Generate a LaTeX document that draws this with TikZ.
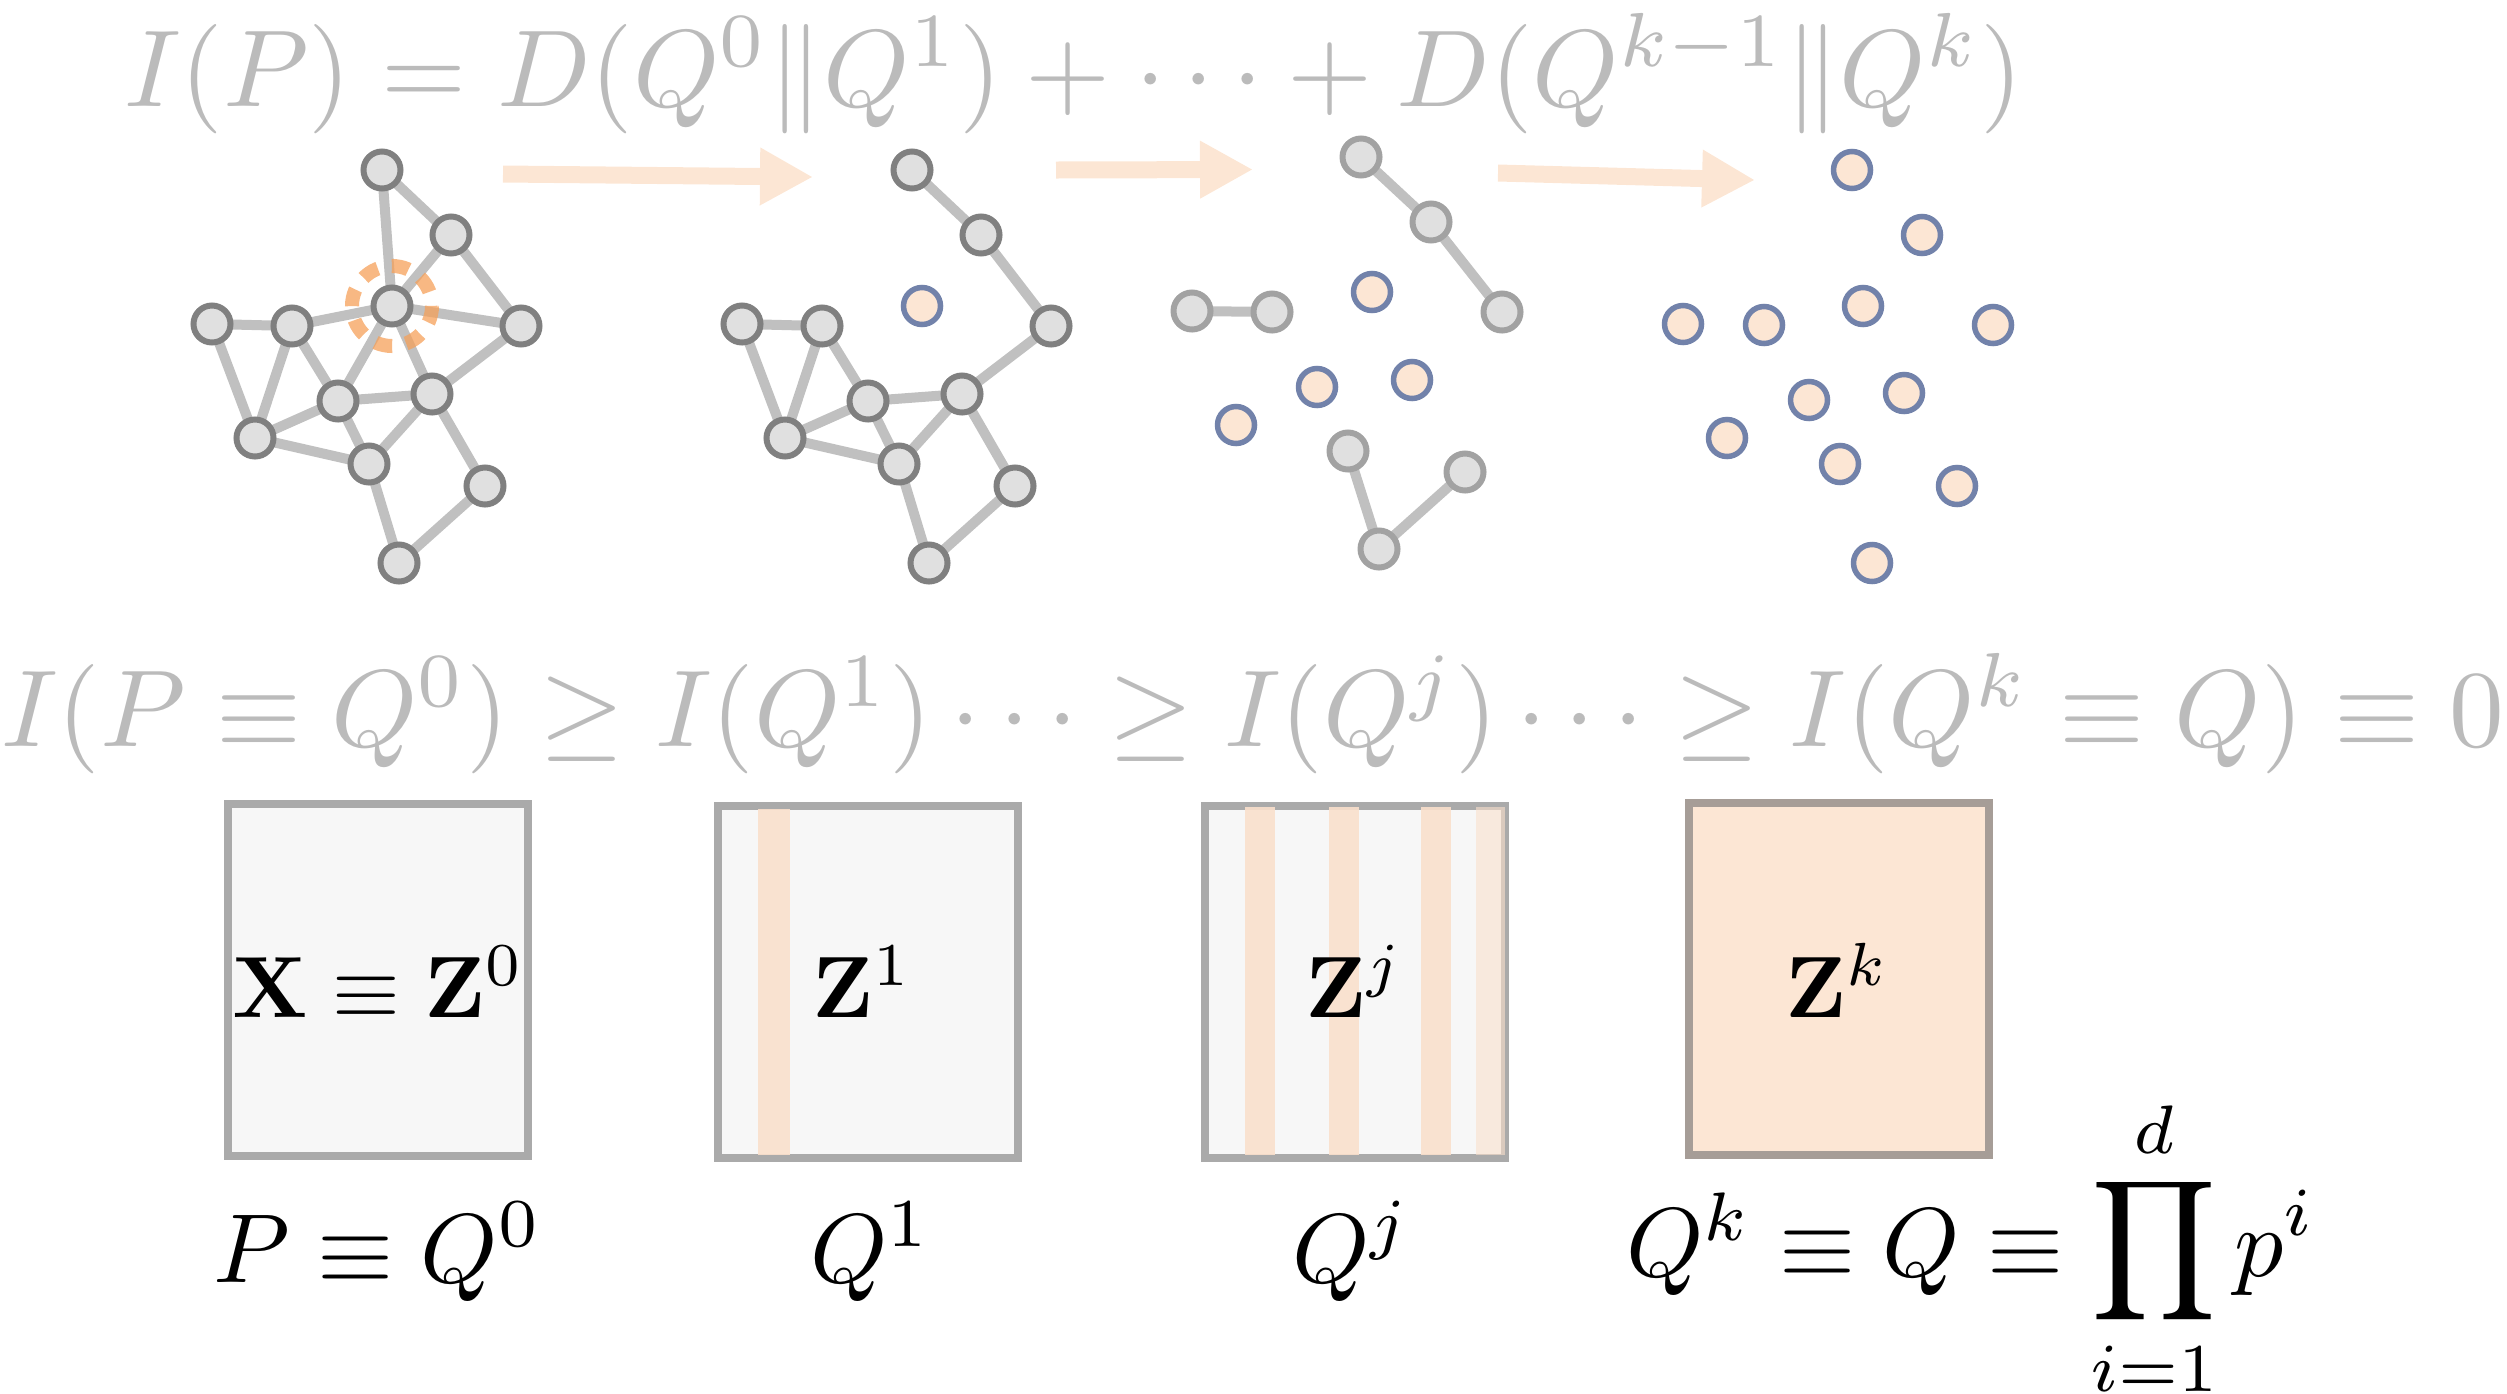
\documentclass[tikz,border=0pt]{standalone}
\usepackage{graphicx}
\usetikzlibrary{arrows.meta,backgrounds}
\definecolor{edgegray}{RGB}{192,192,192}
\definecolor{nodefill}{RGB}{224,224,224}
\definecolor{nodedraw}{RGB}{128,128,128}
\definecolor{nodedrawlight}{RGB}{162,162,162}
\definecolor{peach}{RGB}{252,230,212}
\definecolor{bluering}{RGB}{114,130,170}
\definecolor{ringorange}{RGB}{245,160,90}
\definecolor{eqgray}{RGB}{187,187,187}
\definecolor{boxborder}{RGB}{170,170,170}
\definecolor{boxfill}{RGB}{247,247,247}
\definecolor{stripecol}{RGB}{250,224,204}
\definecolor{kborder}{RGB}{166,157,151}
\tikzset{
  gnode/.style={circle, minimum size=37pt, inner sep=0pt, line width=6pt, draw=nodedraw, fill=nodefill},
  gnodelight/.style={gnode, draw=nodedrawlight},
  onode/.style={circle, minimum size=37pt, inner sep=0pt, line width=5.5pt, draw=bluering, fill=peach},
  gedge/.style={line width=10pt, draw=edgegray},
  flowarrow/.style={line width=17pt, draw=peach, -{Triangle[length=53pt,width=54pt]}},
  dashring/.style={draw=ringorange, opacity=0.75, line width=14pt, dash pattern=on 17pt off 14.4pt},
  zbox/.style={rectangle, draw=boxborder, fill=boxfill, line width=8pt, minimum width=300pt, minimum height=352pt, inner sep=0pt},
  kbox/.style={zbox, draw=kborder, fill=peach},
  stripe/.style={fill=stripecol, opacity=0.9},
  eqtext/.style={inner sep=0pt, text=eqgray},
  lbl/.style={inner sep=0pt, text=black}
}
\begin{document}
\begin{tikzpicture}[x=1pt,y=-1pt]
\useasboundingbox (0,0) rectangle (2507,1393);

% ---------- equations ----------
\node[eqtext, anchor=base west] (eqtop) at (124,106)
  {\resizebox{1898pt}{!}{$I(P)=D(Q^0\|Q^1)+\cdots+D(Q^{k-1}\|Q^k)$}};
\node[eqtext, anchor=base west] (eqmid) at (1,746)
  {\resizebox{2501pt}{!}{$I(P\equiv Q^0)\geq I(Q^1)\cdots\geq I(Q^j)\cdots\geq I(Q^k\equiv Q)\equiv 0$}};

% ---------- graph 1 ----------
\node[gnode] (g1A) at (382,170) {};
\node[gnode] (g1B) at (451,235) {};
\node[gnode] (g1C) at (392,306) {};
\node[gnode] (g1D) at (521,326) {};
\node[gnode] (g1E) at (212,324) {};
\node[gnode] (g1F) at (292,326) {};
\node[gnode] (g1G) at (338,401) {};
\node[gnode] (g1H) at (432,394) {};
\node[gnode] (g1I) at (255,438) {};
\node[gnode] (g1J) at (369,464) {};
\node[gnode] (g1K) at (485,486) {};
\node[gnode] (g1L) at (399,563) {};

% ---------- graph 2 ----------
\node[gnode] (g2A) at (912,170) {};
\node[gnode] (g2B) at (981,235) {};
\node[onode] (g2C) at (922,306) {};
\node[gnode] (g2D) at (1051,326) {};
\node[gnode] (g2E) at (742,324) {};
\node[gnode] (g2F) at (822,326) {};
\node[gnode] (g2G) at (868,401) {};
\node[gnode] (g2H) at (962,394) {};
\node[gnode] (g2I) at (785,438) {};
\node[gnode] (g2J) at (899,464) {};
\node[gnode] (g2K) at (1015,486) {};
\node[gnode] (g2L) at (929,563) {};

% ---------- graph 3 ----------
\node[gnodelight] (g3a) at (1361,157) {};
\node[gnodelight] (g3b) at (1431,222) {};
\node[gnodelight] (g3c) at (1502,312) {};
\node[gnodelight] (g3d) at (1192,311) {};
\node[gnodelight] (g3e) at (1272,312) {};
\node[onode] (g3f) at (1372,292) {};
\node[onode] (g3g) at (1317,387) {};
\node[onode] (g3h) at (1412,380) {};
\node[onode] (g3i) at (1236,425) {};
\node[gnodelight] (g3j) at (1348,451) {};
\node[gnodelight] (g3k) at (1465,472) {};
\node[gnodelight] (g3l) at (1379,549) {};

% ---------- graph 4 ----------
\foreach \n/\x/\y in {1/1852/170, 2/1922/235, 3/1863/306, 4/1683/324, 5/1764/325, 6/1993/325,
                      7/1809/400, 8/1904/393, 9/1727/438, 10/1840/464, 11/1957/486, 12/1872/563}
  \node[onode] (g4n\n) at (\x,\y) {};

% ---------- edges (behind nodes) ----------
\begin{pgfonlayer}{background}
  \foreach \a/\b in {A/B, A/C, B/C, B/D, C/D, C/F, C/G, C/H, E/F, E/I, F/I, F/G, G/H, G/I, G/J, I/J, H/J, H/D, H/K, J/L, K/L}
    \draw[gedge] (g1\a.center) -- (g1\b.center);
  \foreach \a/\b in {A/B, B/D, D/H, E/F, E/I, F/I, F/G, G/I, G/H, G/J, I/J, H/J, H/K, J/L, K/L}
    \draw[gedge] (g2\a.center) -- (g2\b.center);
  \foreach \a/\b in {a/b, b/c, d/e, j/l, k/l}
    \draw[gedge] (g3\a.center) -- (g3\b.center);
\end{pgfonlayer}

% dashed ring around the removed node
\draw[dashring] (g1C) circle[radius=40];

% ---------- flow arrows ----------
\coordinate (ar1s) at (503,174);
\coordinate (ar1e) at (813,177);
\coordinate (ar2s) at (1056,170);
\coordinate (ar2e) at (1253,169.5);
\coordinate (ar3s) at (1498,173);
\coordinate (ar3e) at (1755,180);
\draw[flowarrow] (ar1s) -- (ar1e);
\draw[flowarrow] (ar2s) -- (ar2e);
\draw[flowarrow] (ar3s) -- (ar3e);

% ---------- boxes ----------
\node[zbox] (box1) at (377.5,980) {};
\node[zbox] (box2) at (867.5,982) {};
\node[zbox] (box3) at (1355,981.5) {};
\node[kbox] (box4) at (1839,979) {};

\fill[stripe] (758,809) rectangle (790,1155);
\fill[stripe] (1245,807) rectangle (1275,1155);
\fill[stripe] (1329,807) rectangle (1359,1155);
\fill[stripe] (1421,807) rectangle (1451,1155);
\fill[stripecol, opacity=0.6] (1476,807) rectangle (1505,1155);

\node[lbl, anchor=base] (z0) at (378.5,1017) {\scalebox{8.7}{$\mathbf{X}\equiv\mathbf{Z}^0$}};
\node[lbl, anchor=base west] (z1) at (812,1017) {\scalebox{8.7}{$\mathbf{Z}^1$}};
\node[lbl, anchor=base west] (zj) at (1305,1017) {\scalebox{8.7}{$\mathbf{Z}^j$}};
\node[lbl, anchor=base west] (zk) at (1785,1017) {\scalebox{8.7}{$\mathbf{Z}^k$}};

% ---------- bottom labels ----------
\node[lbl, anchor=base] (q0) at (378,1282) {\scalebox{9.8}{$P\equiv Q^0$}};
\node[lbl, anchor=base west] (q1) at (810,1282) {\scalebox{9.8}{$Q^1$}};
\node[lbl, anchor=base west] (qj) at (1292,1282) {\scalebox{9.8}{$Q^j$}};
\node[lbl, anchor=base west] (qk) at (1626,1276) {\scalebox{9.8}{$Q^k\equiv Q\equiv\displaystyle\prod_{i=1}^d p^i$}};
\end{tikzpicture}
\end{document}
